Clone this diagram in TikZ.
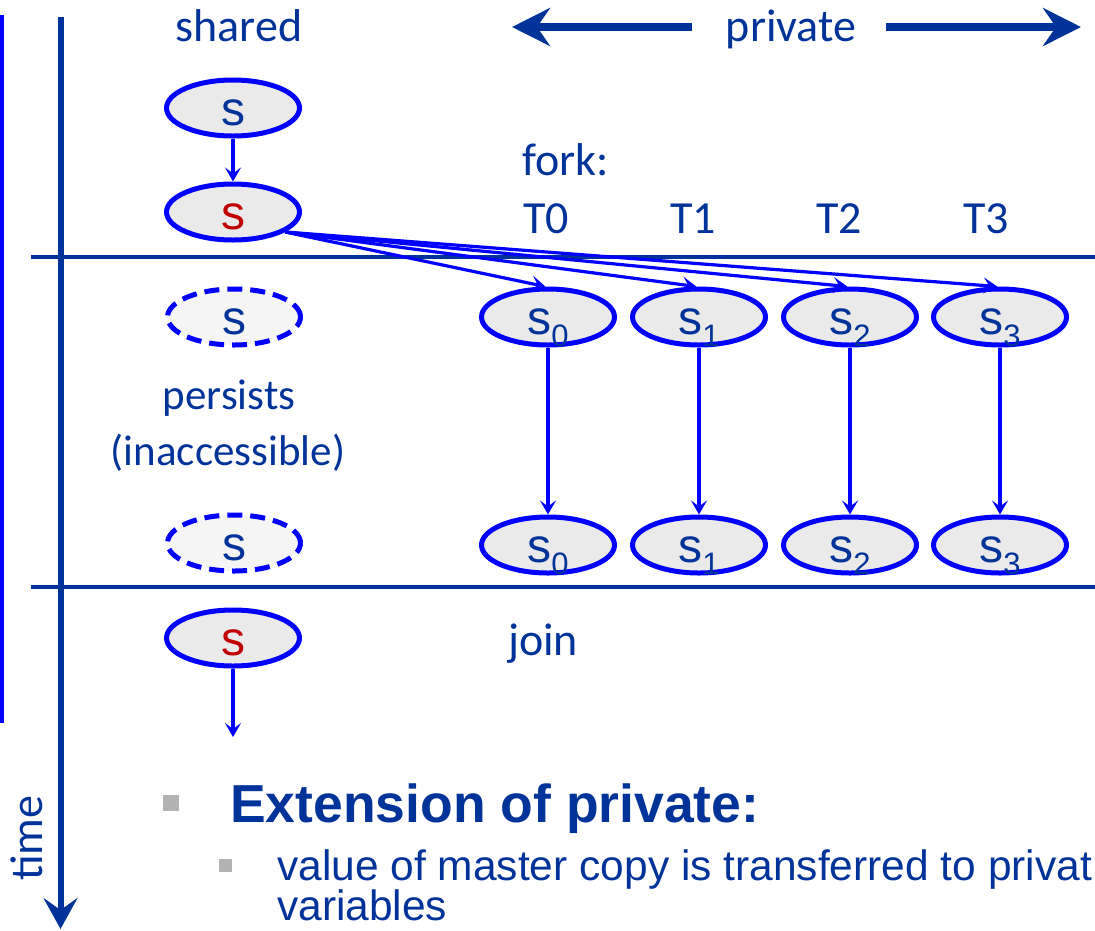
\documentclass[tikz,border=0pt]{standalone}
\usepackage{fontspec}
\setmainfont{Carlito}
\newfontfamily\arialf{Liberation Sans}
\usetikzlibrary{arrows.meta,shapes.geometric}

\definecolor{navy}{HTML}{003399}
\definecolor{pureblue}{HTML}{0000FF}
\definecolor{redtxt}{HTML}{C00000}
\definecolor{cellgray}{HTML}{EAEAEA}
\definecolor{ghostgray}{HTML}{F5F5F5}
\definecolor{bulletgray}{HTML}{B3B3B3}

% subscript of a private copy
\newcommand\copyidx[1]{\raisebox{-12pt}{\fontsize{31}{31}\selectfont #1}}

\tikzset{
  lbl/.style={text=navy, inner sep=0pt, anchor=base, font=\fontsize{46}{50}\selectfont},
  smalllbl/.style={lbl, font=\fontsize{43}{46}\selectfont},
  var/.style={ellipse, draw=pureblue, line width=5pt, fill=cellgray,
    minimum width=133pt, minimum height=56pt, inner sep=0pt,
    text height=35pt, text depth=0pt, text=navy,
    font=\arialf\fontsize{48}{48}\selectfont},
  ghost/.style={var, fill=ghostgray, dash pattern=on 15pt off 8pt},
  master/.style={var, text=redtxt},
  flow/.style={draw=pureblue, line width=3.2pt,
    -{Stealth[length=14pt,width=16pt,inset=6pt]}},
  rule/.style={draw=navy, line width=3.5pt},
  timeaxis/.style={draw=navy, line width=6pt,
    -{Stealth[length=31pt,width=34pt,inset=12pt]}},
  scopearrow/.style={draw=navy, line width=8pt,
    -{Stealth[length=38pt,width=38pt,inset=13pt]}},
  bulletbig/.style={rectangle, fill=bulletgray, minimum size=16pt, inner sep=0pt},
  bulletsmall/.style={rectangle, fill=bulletgray, minimum size=13pt, inner sep=0pt},
  headtext/.style={text=navy, inner sep=0pt, anchor=base west,
    font=\arialf\bfseries\fontsize{53.5}{56}\selectfont},
  bodytext/.style={text=navy, inner sep=0pt, anchor=base west,
    font=\arialf\fontsize{42.5}{40}\selectfont},
}

\begin{document}
\begin{tikzpicture}[x=1pt,y=-1pt]
\useasboundingbox (0,0) rectangle (1095,930);

% frame lines
\coordinate (edgeTop) at (1.75,15);
\coordinate (edgeBot) at (1.75,723);
\draw[draw=pureblue, line width=3.5pt] (edgeTop) -- (edgeBot);

\coordinate (timeTop) at (60.5,17);
\coordinate (timeBot) at (60.5,929);
\draw[timeaxis] (timeTop) -- (timeBot);
\node[lbl, rotate=90] (timeLbl) at (42,838) {time};

\coordinate (forkL) at (31,257);
\coordinate (forkR) at (1095,257);
\coordinate (joinL) at (31,587);
\coordinate (joinR) at (1095,587);
\draw[rule] (forkL) -- (forkR);
\draw[rule] (joinL) -- (joinR);

% column headings
\node[lbl] (sharedLbl) at (239,41) {shared};
\node[lbl] (privLbl) at (791,41) {private};
\coordinate (privL0) at (692,27);
\coordinate (privL1) at (512,27);
\coordinate (privR0) at (886,27);
\coordinate (privR1) at (1081,27);
\draw[scopearrow] (privL0) -- (privL1);
\draw[scopearrow] (privR0) -- (privR1);

\node[lbl, anchor=base west] (forkLbl) at (522,175) {fork:};
\node[lbl] (t0) at (546,233) {T0};
\node[lbl] (t1) at (693,233) {T1};
\node[lbl] (t2) at (839,233) {T2};
\node[lbl] (t3) at (986,233) {T3};

% shared variable
\node[var] (sh1) at (233,108) {s};
\node[master] (sh2) at (233,212) {s};
\node[ghost] (sh3) at (234,317) {s};
\node[smalllbl] (persist) at (229,409) {persists};
\node[smalllbl] (inacc) at (228,465) {(inaccessible)};
\node[ghost] (sh4) at (234,543) {s};
\node[master] (sh5) at (233,638) {s};
\coordinate (shEnd) at (233,737);

\draw[flow] (sh1) -- (sh2);
\draw[flow] (sh5) -- (shEnd);

% private copies
\foreach \i/\x in {0/548,1/699,2/850,3/1000}{
  \node[var] (s\i t) at (\x,317) {s\copyidx{\i}};
  \node[var] (s\i b) at (\x,545) {s\copyidx{\i}};
  \draw[flow] (s\i t) -- (s\i b);
}
\foreach \i in {0,1,2,3}{
  \draw[flow] (sh2.-21) -- (s\i t.95);
}

\node[lbl] (joinLbl) at (543,655) {join};

% notes
\node[bulletbig] (bul1) at (171,803) {};
\node[headtext] (head) at (230,822) {Extension of private:};
\node[bulletsmall] (bul2) at (225.5,865) {};
\node[bodytext] (body1) at (277,880) {value of master copy is transferred to privat};
\node[bodytext] (body2) at (277,920) {variables};
\end{tikzpicture}
\end{document}
